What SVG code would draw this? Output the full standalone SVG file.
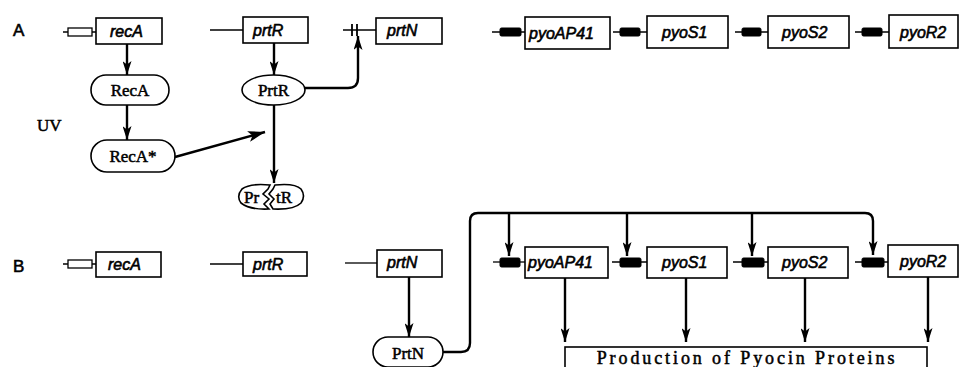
<svg xmlns="http://www.w3.org/2000/svg" width="959" height="367" viewBox="0 0 959 367">
<style>
.bg{fill:#fff}
.box{fill:#fff;stroke:#000;stroke-width:1.6}
.dna{stroke:#000;stroke-width:1.3;fill:none}
.prom{fill:#000;stroke:#000;stroke-width:1}
.promw{fill:#fff;stroke:#000;stroke-width:1.3}
.gene{font-family:"Liberation Sans",Arial,sans-serif;font-style:italic;font-size:16px;fill:#000;stroke:#000;stroke-width:0.6}
.prot{font-family:"Liberation Serif","Times New Roman",serif;font-size:17px;fill:#000;stroke:#000;stroke-width:0.5}
.lbl{font-family:"Liberation Sans",Arial,sans-serif;font-size:17px;fill:#000;stroke:#000;stroke-width:0.6}
.con{stroke:#000;stroke-width:2.4;fill:none}
.prod{font-family:"Liberation Serif","Times New Roman",serif;font-size:18px;letter-spacing:2.9px;fill:#000;stroke:#000;stroke-width:0.5}
</style>
<defs>
<marker id="ah" viewBox="0 0 14 9" refX="14" refY="4.5" markerWidth="14" markerHeight="9" markerUnits="userSpaceOnUse" orient="auto">
<path d="M0,0 L14,4.5 L0,9 L3.5,4.5 Z" fill="#000"/>
</marker>
<marker id="ahL" viewBox="0 0 17 11" refX="17" refY="5.5" markerWidth="17" markerHeight="11" markerUnits="userSpaceOnUse" orient="auto">
<path d="M0,0 L17,5.5 L0,11 L4,5.5 Z" fill="#000"/>
</marker>
</defs>
<rect class="bg" x="0" y="0" width="959" height="367"/>

<text class="lbl" x="13" y="36">A</text>
<text class="lbl" x="13" y="272">B</text>
<text class="prot" x="37" y="131">UV</text>

<!-- Row A genes -->
<g id="A-recA">
<line class="dna" x1="63" y1="32" x2="96" y2="32"/>
<rect class="promw" x="68" y="28" width="24" height="8"/>
<rect class="box" x="96" y="18" width="66" height="26"/>
<text class="gene" x="110" y="37">recA</text>
</g>
<g id="A-prtR">
<line class="dna" x1="210" y1="30" x2="243" y2="30"/>
<rect class="box" x="243" y="17" width="65" height="26"/>
<text class="gene" x="253" y="36">prtR</text>
</g>
<g id="A-prtN">
<line class="dna" x1="343" y1="30" x2="376" y2="30"/>
<line class="dna" x1="352" y1="24" x2="352" y2="36" style="stroke-width:1.8"/>
<line class="dna" x1="357" y1="24" x2="357" y2="36" style="stroke-width:1.8"/>
<rect class="box" x="376" y="18" width="66" height="26"/>
<text class="gene" x="387" y="36">prtN</text>
</g>
<g id="A-pyoAP41">
<line class="dna" x1="492" y1="32" x2="525" y2="32"/>
<rect class="prom" x="500" y="28" width="21" height="8" rx="1.5"/>
<rect class="box" x="525" y="17" width="85" height="32"/>
<text class="gene" x="529" y="39">pyoAP41</text>
</g>
<g id="A-pyoS1">
<line class="dna" x1="613" y1="32" x2="647" y2="32"/>
<rect class="prom" x="620" y="28" width="20" height="8" rx="1.5"/>
<rect class="box" x="647" y="16" width="81" height="32"/>
<text class="gene" x="662" y="38">pyoS1</text>
</g>
<g id="A-pyoS2">
<line class="dna" x1="735" y1="32" x2="768" y2="32"/>
<rect class="prom" x="742" y="28" width="19" height="8" rx="1.5"/>
<rect class="box" x="768" y="16" width="81" height="32"/>
<text class="gene" x="782" y="38">pyoS2</text>
</g>
<g id="A-pyoR2">
<line class="dna" x1="855" y1="32" x2="889" y2="32"/>
<rect class="prom" x="862" y="28" width="20" height="8" rx="1.5"/>
<rect class="box" x="889" y="15" width="69" height="33"/>
<text class="gene" x="900" y="38">pyoR2</text>
</g>

<!-- Row A proteins -->
<g id="RecA">
<rect class="box" x="91" y="75" width="78" height="30" rx="15"/>
<text class="prot" x="130" y="96" text-anchor="middle">RecA</text>
</g>
<g id="RecAstar">
<rect class="box" x="91" y="140" width="84" height="32" rx="16"/>
<text class="prot" x="133" y="162" text-anchor="middle">RecA*</text>
</g>
<g id="PrtR">
<ellipse class="box" cx="273.5" cy="90" rx="31.5" ry="15"/>
<text class="prot" x="273.5" y="96" text-anchor="middle">PrtR</text>
</g>
<g id="PrtR-cleaved">
<path class="box" d="M270,185 Q250,183 242,189 Q236,196 241,203 Q250,210 269,209 L264,204 L269,199 L263,194 L268,189 Z"/>
<path class="box" d="M275,185 Q295,183 301,189 Q306,196 301,203 Q294,210 273,209 L270,204 L274,199 L269,194 L273,189 Z"/>
<text class="prot" x="244" y="203">Pr</text>
<text class="prot" x="276" y="203">tR</text>
</g>

<!-- Row B genes -->
<g id="B-recA">
<line class="dna" x1="63" y1="264" x2="96" y2="264"/>
<rect class="promw" x="68" y="260" width="24" height="8"/>
<rect class="box" x="96" y="252" width="65" height="25"/>
<text class="gene" x="108" y="270">recA</text>
</g>
<g id="B-prtR">
<line class="dna" x1="210" y1="264" x2="243" y2="264"/>
<rect class="box" x="243" y="252" width="64" height="24"/>
<text class="gene" x="253" y="270">prtR</text>
</g>
<g id="B-prtN">
<line class="dna" x1="345" y1="263" x2="377" y2="263"/>
<rect class="box" x="377" y="250" width="65" height="27"/>
<text class="gene" x="387" y="268">prtN</text>
</g>
<g id="B-pyoAP41">
<line class="dna" x1="493" y1="262" x2="525" y2="262"/>
<rect class="prom" x="500" y="258" width="20" height="9" rx="1.5"/>
<rect class="box" x="525" y="247" width="83" height="31"/>
<text class="gene" x="528" y="268">pyoAP41</text>
</g>
<g id="B-pyoS1">
<line class="dna" x1="612" y1="262" x2="647" y2="262"/>
<rect class="prom" x="620" y="258" width="21" height="9" rx="1.5"/>
<rect class="box" x="647" y="247" width="80" height="31"/>
<text class="gene" x="662" y="268">pyoS1</text>
</g>
<g id="B-pyoS2">
<line class="dna" x1="733" y1="262" x2="768" y2="262"/>
<rect class="prom" x="742" y="258" width="22" height="9" rx="1.5"/>
<rect class="box" x="768" y="247" width="80" height="31"/>
<text class="gene" x="782" y="268">pyoS2</text>
</g>
<g id="B-pyoR2">
<line class="dna" x1="855" y1="262" x2="888" y2="262"/>
<rect class="prom" x="862" y="258" width="22" height="9" rx="1.5"/>
<rect class="box" x="888" y="245" width="70" height="32"/>
<text class="gene" x="900" y="267">pyoR2</text>
</g>

<g id="PrtN">
<rect class="box" x="373" y="337" width="70" height="30" rx="15"/>
<text class="prot" x="408" y="359" text-anchor="middle">PrtN</text>
</g>
<g id="Production">
<rect class="box" x="565" y="347" width="362" height="24"/>
<text class="prod" x="747" y="364" text-anchor="middle">Production of Pyocin Proteins</text>
</g>

<!-- connectors -->
<g id="connectors">
<line class="con" x1="127" y1="44" x2="127" y2="75" marker-end="url(#ah)"/>
<line class="con" x1="127" y1="105" x2="127" y2="140" marker-end="url(#ah)"/>
<line class="con" x1="274" y1="43" x2="274" y2="75" marker-end="url(#ah)"/>
<path class="con" d="M305,88 L348,88 Q358,88 358,78 L358,36" marker-end="url(#ah)"/>
<line class="con" x1="274" y1="105" x2="274" y2="183" marker-end="url(#ah)"/>
<line class="con" x1="175" y1="157" x2="265" y2="132" marker-end="url(#ahL)"/>
<line class="con" x1="409" y1="277" x2="409" y2="337" marker-end="url(#ah)"/>
<path class="con" d="M443,352 L461,352 Q470,352 470,343 L470,221 Q470,213 478,213 L865,213 Q873,213 873,221 L873,255" marker-end="url(#ah)"/>
<line class="con" x1="509" y1="213" x2="509" y2="256" marker-end="url(#ah)"/>
<line class="con" x1="627" y1="213" x2="627" y2="256" marker-end="url(#ah)"/>
<line class="con" x1="752" y1="213" x2="752" y2="256" marker-end="url(#ah)"/>
<line class="con" x1="565" y1="278" x2="565" y2="342" marker-end="url(#ah)"/>
<line class="con" x1="686" y1="278" x2="686" y2="342" marker-end="url(#ah)"/>
<line class="con" x1="805" y1="278" x2="805" y2="342" marker-end="url(#ah)"/>
<line class="con" x1="928" y1="277" x2="928" y2="342" marker-end="url(#ah)"/>
</g>
</svg>
